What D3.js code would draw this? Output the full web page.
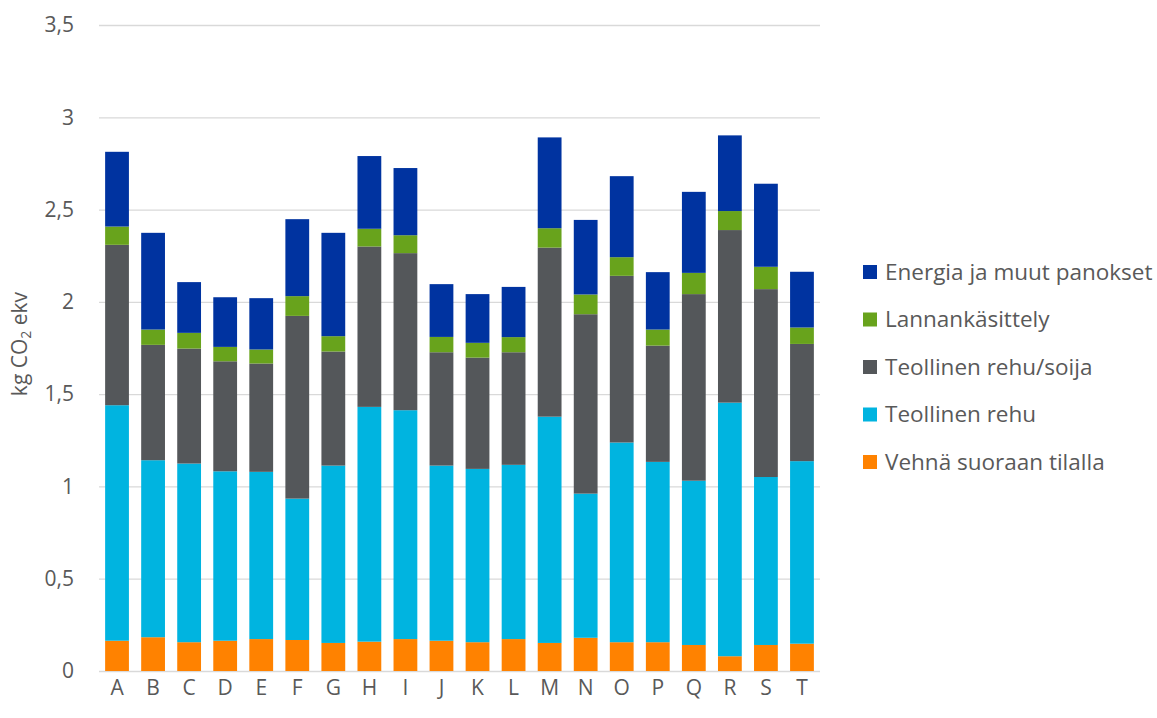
<!DOCTYPE html>
<html><head><meta charset="utf-8">
<script src="https://cdn.jsdelivr.net/npm/d3@7"></script>
<style>body{margin:0;background:#fff;}svg{display:block;font-family:"Open Sans","Noto Sans",sans-serif;}</style>
</head><body><svg id="c" width="1157" height="718"></svg>
<script>
const categories = ["A","B","C","D","E","F","G","H","I","J","K","L","M","N","O","P","Q","R","S","T"];
const vehna   = [0.164,0.183,0.156,0.164,0.173,0.168,0.152,0.159,0.173,0.164,0.156,0.173,0.152,0.180,0.156,0.156,0.141,0.080,0.141,0.148];
const rehu    = [1.276,0.959,0.968,0.918,0.906,0.766,0.961,1.272,1.240,0.949,0.939,0.944,1.226,0.781,1.082,0.977,0.890,1.374,0.910,0.989];
const soija   = [0.869,0.625,0.623,0.596,0.587,0.990,0.618,0.869,0.851,0.614,0.603,0.610,0.916,0.972,0.903,0.630,1.011,0.935,1.018,0.635];
const lanta   = [0.099,0.083,0.085,0.078,0.076,0.107,0.083,0.096,0.097,0.083,0.080,0.082,0.105,0.107,0.101,0.087,0.115,0.103,0.121,0.089];
const energia = [0.405,0.524,0.275,0.269,0.278,0.417,0.560,0.394,0.364,0.286,0.264,0.272,0.492,0.404,0.439,0.311,0.439,0.410,0.450,0.302];
const seriesNames = ["Vehnä suoraan tilalla","Teollinen rehu","Teollinen rehu/soija","Lannankäsittely","Energia ja muut panokset"];
const seriesColors = ["#FF8200","#00B4E0","#54575A","#68A31C","#0033A0"];
const yTicks = [0,0.5,1,1.5,2,2.5,3,3.5];
const yTickLabels = ["0","0,5","1","1,5","2","2,5","3","3,5"];

const svg = d3.select("#c");
const seriesVals = [vehna, rehu, soija, lanta, energia];
const rows = categories.map((c,i)=>{const o={cat:c}; seriesNames.forEach((s,j)=>o[s]=seriesVals[j][i]); return o;});
const stack = d3.stack().keys(seriesNames)(rows);

const x = d3.scaleBand().domain(categories).range([99,820]).paddingInner(0.34).paddingOuter(0.17);
const y = d3.scaleLinear().domain([0,3.5]).range([671,25]);

// grid
svg.append("g").selectAll("line").data(yTicks).join("line")
  .attr("x1",99).attr("x2",820).attr("y1",d=>y(d)+0.5).attr("y2",d=>y(d)+0.5)
  .attr("stroke","#d9d9d9").attr("stroke-width",1.3);

// y labels
svg.append("g").selectAll("text").data(yTicks).join("text")
  .attr("x",74).attr("y",d=>y(d)).attr("dy","0.35em").attr("text-anchor","end")
  .attr("fill","#595959").attr("font-size",21).text((d,i)=>yTickLabels[i]);

// bars
svg.append("g").selectAll("g").data(stack).join("g")
  .attr("fill",(d,i)=>seriesColors[i])
  .selectAll("rect").data(d=>d).join("rect")
  .attr("x",d=>x(d.data.cat)).attr("width",x.bandwidth())
  .attr("y",d=>y(d[1])).attr("height",d=>y(d[0])-y(d[1]));

// x labels
svg.append("g").selectAll("text").data(categories).join("text")
  .attr("x",d=>x(d)+x.bandwidth()/2).attr("y",688).attr("dy","0.35em").attr("text-anchor","middle")
  .attr("fill","#595959").attr("font-size",21).text(d=>d);

// y title
const t = svg.append("text").attr("transform","translate(27,344) rotate(-90)")
  .attr("text-anchor","middle").attr("fill","#595959").attr("font-size",21);
t.append("tspan").text("kg CO");
t.append("tspan").attr("font-size",14).attr("dy",4).text("2");
t.append("tspan").attr("dy",-4).text(" ekv");

// legend
const legOrder = [4,3,2,1,0];
const lg = svg.append("g").selectAll("g").data(legOrder).join("g")
  .attr("transform",(d,i)=>`translate(863,${272+i*47.5})`);
lg.append("rect").attr("x",0).attr("y",-7).attr("width",14).attr("height",14).attr("fill",d=>seriesColors[d]);
lg.append("text").attr("x",22).attr("dy","0.35em").attr("fill","#595959").attr("font-size",22.5)
  .text(d=>seriesNames[d]);
</script></body></html>
